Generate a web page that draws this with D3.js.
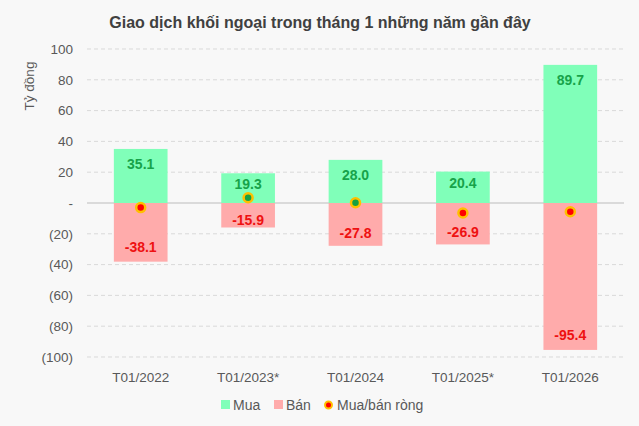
<!DOCTYPE html>
<html><head><meta charset="utf-8">
<script src="https://cdn.jsdelivr.net/npm/d3@7"></script>
<style>
html,body{margin:0;padding:0;background:#f8f8f8;}
svg{display:block;font-family:"Liberation Sans",Arial,sans-serif;}
</style></head><body>
<svg id="c" width="639" height="426"></svg>
<script>
const categories = ["T01/2022","T01/2023*","T01/2024","T01/2025*","T01/2026"];
const buyValues = [35.1, 19.3, 28.0, 20.4, 89.7];
const sellValues = [-38.1, -15.9, -27.8, -26.9, -95.4];
const netValues = [-3.0, 3.4, 0.2, -6.5, -5.7];
const yTicks = [100, 80, 60, 40, 20, 0, -20, -40, -60, -80, -100];

const svg = d3.select("#c");
const W = 639, H = 426;
svg.append("rect").attr("width", W).attr("height", H).attr("fill", "#f8f8f8");

const x = d3.scaleBand().domain(categories).range([87, 624]).paddingInner(0.5).paddingOuter(0.25);
const y = d3.scaleLinear().domain([-100, 100]).range([357, 49]);

const fmt = v => v === 0 ? "-" : (v < 0 ? "(" + Math.abs(v) + ")" : String(v));

// gridlines
svg.append("g").selectAll("line").data(yTicks).join("line")
  .attr("x1", 87).attr("x2", 624)
  .attr("y1", d => y(d)).attr("y2", d => y(d))
  .attr("stroke", d => d === 0 ? "#d0d0d0" : "#d9d9d9")
  .attr("stroke-width", d => d === 0 ? 1.5 : 1)
  .attr("stroke-dasharray", d => d === 0 ? null : "4,3");

// y axis
const yAxis = d3.axisLeft(y).tickValues(yTicks).tickFormat(fmt).tickSize(0).tickPadding(14);
const ga = svg.append("g").attr("transform", "translate(87,0)").call(yAxis);
ga.select(".domain").remove();
ga.selectAll("text").attr("font-size", 13.5).attr("fill", "#595959");

// x axis
const xAxis = d3.axisBottom(x).tickSize(0).tickPadding(0);
const gx = svg.append("g").attr("transform", "translate(0,372)").call(xAxis);
gx.select(".domain").remove();
gx.selectAll("text").attr("font-size", 13.5).attr("fill", "#595959").attr("dy", "0.71em");

// bars
const g = svg.append("g");
categories.forEach((c, i) => {
  const b = buyValues[i], s = sellValues[i];
  g.append("rect").attr("x", x(c)).attr("width", x.bandwidth())
    .attr("y", y(b)).attr("height", y(0) - y(b)).attr("fill", "#80ffb9");
  g.append("rect").attr("x", x(c)).attr("width", x.bandwidth())
    .attr("y", y(0)).attr("height", y(s) - y(0)).attr("fill", "#ffabab");
  const hb = y(0) - y(b), hs = y(s) - y(0);
  g.append("text").attr("x", x(c) + x.bandwidth()/2).attr("y", y(b) + Math.min(15, hb*0.35))
    .attr("text-anchor", "middle").attr("dominant-baseline", "central")
    .attr("font-size", 14).attr("font-weight", "bold").attr("fill", "#17a34a").text(b.toFixed(1));
  g.append("text").attr("x", x(c) + x.bandwidth()/2).attr("y", y(s) - Math.min(15, hs*0.31))
    .attr("text-anchor", "middle").attr("dominant-baseline", "central")
    .attr("font-size", 14).attr("font-weight", "bold").attr("fill", "#ee1111").text(s.toFixed(1));
});

// net markers
svg.append("g").selectAll("circle").data(categories).join("circle")
  .attr("cx", d => x(d) + x.bandwidth()/2)
  .attr("cy", (d, i) => y(netValues[i]))
  .attr("r", 4.5)
  .attr("fill", (d, i) => netValues[i] < 0 ? "#ff0000" : "#18a040")
  .attr("stroke", "#ffc000").attr("stroke-width", 2.5);

// title
svg.append("text").attr("x", 320).attr("y", 28).attr("text-anchor", "middle")
  .attr("font-size", 16).attr("font-weight", "bold").attr("fill", "#404040")
  .text("Giao dịch khối ngoại trong tháng 1 những năm gần đây");

// y title
svg.append("text").attr("transform", "translate(34,86) rotate(-90)").attr("text-anchor", "middle")
  .attr("font-size", 13.5).attr("fill", "#595959").text("Tỷ đồng");

// legend
const lg = svg.append("g").attr("transform", "translate(0,405)");
lg.append("rect").attr("x", 221).attr("y", -5).attr("width", 9).attr("height", 9).attr("fill", "#80ffb9");
lg.append("text").attr("x", 233).attr("y", 0).attr("dominant-baseline", "central").attr("font-size", 14).attr("fill", "#595959").text("Mua");
lg.append("rect").attr("x", 274).attr("y", -5).attr("width", 9).attr("height", 9).attr("fill", "#ffabab");
lg.append("text").attr("x", 286).attr("y", 0).attr("dominant-baseline", "central").attr("font-size", 14).attr("fill", "#595959").text("Bán");
lg.append("circle").attr("cx", 328.5).attr("cy", 0).attr("r", 3.5).attr("fill", "#ff0000").attr("stroke", "#ffc000").attr("stroke-width", 2);
lg.append("text").attr("x", 337).attr("y", 0).attr("dominant-baseline", "central").attr("font-size", 14).attr("fill", "#595959").text("Mua/bán ròng");
</script>
</body></html>
